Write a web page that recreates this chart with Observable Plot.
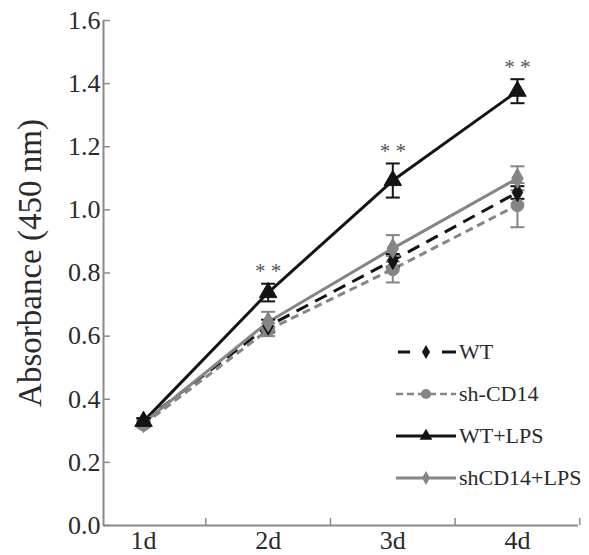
<!DOCTYPE html>
<html>
<head>
<meta charset="utf-8">
<script src="https://cdn.jsdelivr.net/npm/d3@7"></script>
<script src="https://cdn.jsdelivr.net/npm/@observablehq/plot@0.6"></script>
<style>
  html, body { margin: 0; padding: 0; background: #fff; }
  #wrap { position: relative; width: 589px; height: 555px; font-family: "Liberation Serif", "Times New Roman", Times, "DejaVu Serif", serif; }
  #wrap svg text { font-family: "Liberation Serif", "Times New Roman", Times, "DejaVu Serif", serif; }
  #legend { position: absolute; left: 396px; top: 331px; }
  .row { display: flex; align-items: center; height: 42px; }
  .row span { font-size: 22px; color: #2a2a2a; margin-left: 3px; line-height: 1; }
</style>
</head>
<body>
<div id="wrap"><div id="legend"></div></div>
<script>
// ---- data ----
const days = ["1d", "2d", "3d", "4d"];
const dayIndex = [1, 2, 3, 4];
const bandEdges = [1.5, 2.5, 3.5, 4.5];
const yTicks = [0, 0.2, 0.4, 0.6, 0.8, 1.0, 1.2, 1.4, 1.6];

const seriesNames = ["WT", "sh-CD14", "WT+LPS", "shCD14+LPS"];
const wtMean      = [0.330, 0.632, 0.840, 1.055];
const wtErr       = [0.010, 0.020, 0.020, 0.020];
const shMean      = [0.320, 0.620, 0.812, 1.015];
const shErr       = [0.010, 0.020, 0.042, 0.070];
const wtLpsMean   = [0.330, 0.738, 1.093, 1.376];
const wtLpsErr    = [0.010, 0.028, 0.054, 0.038];
const shLpsMean   = [0.325, 0.645, 0.878, 1.100];
const shLpsErr    = [0.010, 0.032, 0.042, 0.038];
const sigDays     = [2, 3, 4];
const sigLabel    = "* *";

// ---- styles ----
const BLACK = "#141414", GRAY = "#858585", AXIS = "#8a8a8a";
const styles = {
  "WT":         {stroke: BLACK, dash: "13,8", symbol: "diamond", d3sym: d3.symbolDiamond, r: 5.5},
  "sh-CD14":    {stroke: GRAY,  dash: "8,5",  symbol: "circle",  d3sym: d3.symbolCircle, r: 6.5},
  "WT+LPS":     {stroke: BLACK, dash: null,   symbol: "triangle", d3sym: d3.symbolTriangle, r: 6.5},
  "shCD14+LPS": {stroke: GRAY,  dash: null,   symbol: "diamond", d3sym: d3.symbolDiamond, r: 6}
};
const means = [wtMean, shMean, wtLpsMean, shLpsMean];
const errs = [wtErr, shErr, wtLpsErr, shLpsErr];

const rows = [];
seriesNames.forEach((s, si) => {
  dayIndex.forEach((d, i) => {
    rows.push({series: s, day: d, mean: means[si][i], lo: means[si][i] - errs[si][i], hi: means[si][i] + errs[si][i]});
  });
});
const sigRows = sigDays.map(d => rows.find(r => r.series === "WT+LPS" && r.day === d));

const cap = {draw(ctx) { ctx.moveTo(-7, 0); ctx.lineTo(7, 0); }};

const marks = [];
// lines
seriesNames.forEach(s => {
  const st = styles[s];
  marks.push(Plot.line(rows.filter(r => r.series === s), {
    x: "day", y: "mean", stroke: st.stroke, strokeWidth: 3,
    strokeDasharray: st.dash, strokeLinecap: "butt"
  }));
});
// error bars
[...seriesNames].reverse().forEach(s => {
  const st = styles[s];
  const data = rows.filter(r => r.series === s);
  marks.push(Plot.ruleX(data, {x: "day", y1: "lo", y2: "hi", stroke: st.stroke, strokeWidth: 2}));
  marks.push(Plot.dot(data, {x: "day", y: "lo", symbol: cap, stroke: st.stroke, strokeWidth: 2, fill: "none"}));
  marks.push(Plot.dot(data, {x: "day", y: "hi", symbol: cap, stroke: st.stroke, strokeWidth: 2, fill: "none"}));
});
// markers
["sh-CD14", "WT", "shCD14+LPS", "WT+LPS"].forEach(s => {
  const st = styles[s];
  marks.push(Plot.dot(rows.filter(r => r.series === s), {
    x: "day", y: "mean", symbol: st.symbol, r: st.r, fill: st.stroke, stroke: st.stroke, strokeWidth: 1
  }));
});
// significance
marks.push(Plot.text(sigRows, {x: "day", y: "hi", text: () => sigLabel, dy: -12, fontSize: 21, fill: "#555"}));

// axes
marks.push(Plot.ruleX([0], {x: () => 0.679, stroke: AXIS, strokeWidth: 2}));
marks.push(Plot.ruleY([0], {stroke: AXIS, strokeWidth: 2}));
marks.push(Plot.tickY(yTicks, {y: d => d, stroke: AXIS, strokeWidth: 1.5, insetRight: 468}));
marks.push(Plot.tickX(bandEdges, {x: d => d, stroke: AXIS, strokeWidth: 1.5, insetTop: 498}));
marks.push(Plot.axisY({ticks: yTicks, tickSize: 0, tickPadding: 3, tickFormat: d3.format(".1f"), fontSize: 26, label: null, fill: "#2a2a2a"}));
marks.push(Plot.axisX({ticks: dayIndex, tickSize: 0, tickPadding: 5, tickFormat: d => days[d - 1], fontSize: 26, label: null, fill: "#2a2a2a"}));
marks.push(Plot.text(["Absorbance (450 nm)"], {frameAnchor: "left", textAnchor: "middle", rotate: -90, dx: -73, dy: -10, fontSize: 33, fill: "#2a2a2a"}));

const chart = Plot.plot({
  width: 589, height: 555,
  marginLeft: 103, marginRight: 11, marginTop: 20, marginBottom: 30,
  x: {type: "linear", domain: [0.679, 4.49], axis: null},
  y: {domain: [0, 1.6], axis: null},
  style: {fontFamily: "'Liberation Serif', 'Times New Roman', Times, 'DejaVu Serif', serif", background: "#fff", overflow: "visible"},
  marks
});
document.getElementById("wrap").prepend(chart);

// legend (HTML overlay)
const legend = document.getElementById("legend");
seriesNames.forEach(s => {
  const st = styles[s];
  const row = document.createElement("div");
  row.className = "row";
  const sym = d3.symbol(st.d3sym, s === "WT+LPS" ? 70 : s === "sh-CD14" ? 80 : 55)();
  let lineSvg;
  if (s === "WT") {
    lineSvg = `<line x1="2" y1="10" x2="14" y2="10" stroke="${st.stroke}" stroke-width="3"/><line x1="46" y1="10" x2="60" y2="10" stroke="${st.stroke}" stroke-width="3"/>`;
  } else if (s === "sh-CD14") {
    lineSvg = `<line x1="0" y1="10" x2="60" y2="10" stroke="${st.stroke}" stroke-width="2.5" stroke-dasharray="7,4"/>`;
  } else {
    lineSvg = `<line x1="0" y1="10" x2="60" y2="10" stroke="${st.stroke}" stroke-width="3"/>`;
  }
  row.innerHTML = `<svg width="60" height="20">${lineSvg}<path d="${sym}" transform="translate(30,10)" fill="${st.stroke}"/></svg><span>${s}</span>`;
  legend.appendChild(row);
});
</script>
</body>
</html>
